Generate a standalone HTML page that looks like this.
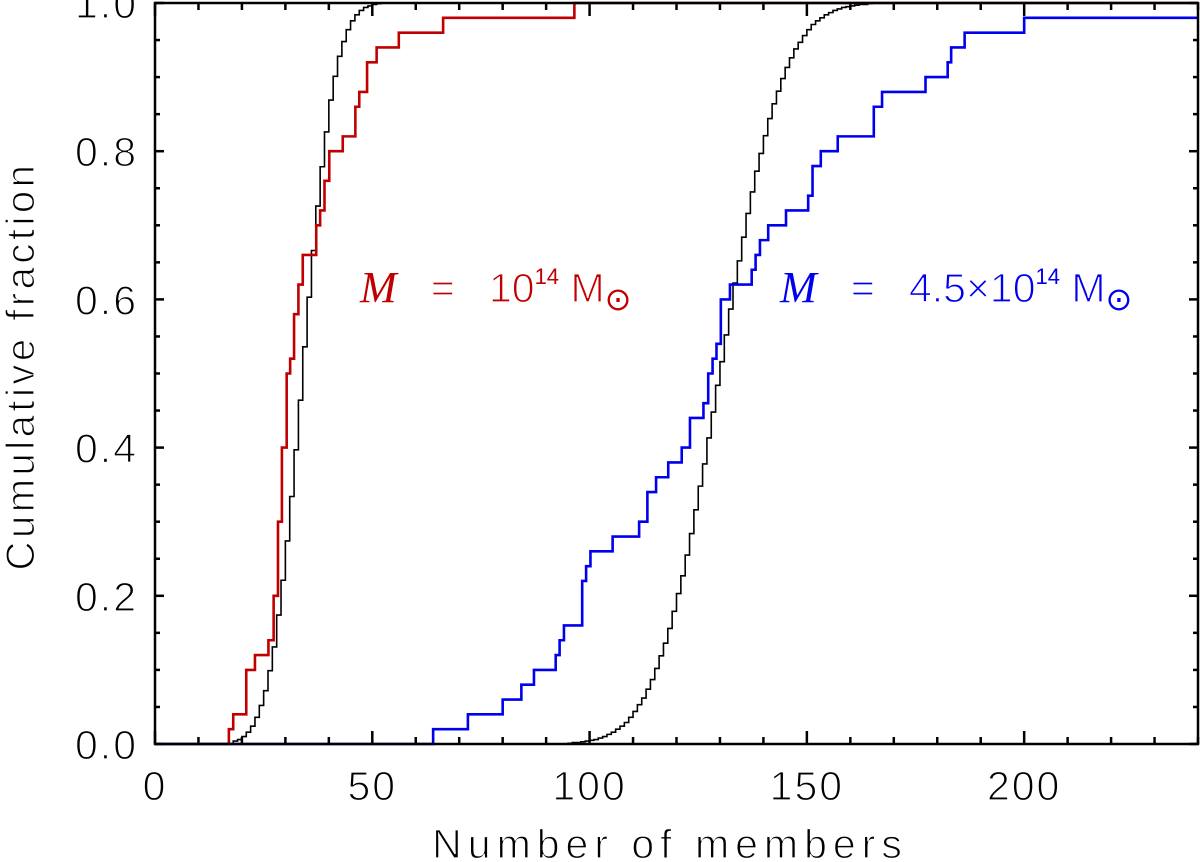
<!DOCTYPE html>
<html><head><meta charset="utf-8">
<style>
html,body{margin:0;padding:0;background:#fff;}
svg{display:block;}
text{font-family:"Liberation Sans",sans-serif;}
.thin{stroke:#fff;stroke-width:1.2;paint-order:normal;}
</style></head>
<body>
<svg id="chart" width="1200" height="862" viewBox="0 0 1200 862" xmlns="http://www.w3.org/2000/svg">
<g id="ticks"></g>
<g id="series"></g>
<rect x="155" y="3" width="1043" height="741" fill="none" stroke="#000" stroke-width="2.5"/>
<g id="labels" font-size="41" fill="#000" class="thin"></g>
<text class="thin" x="670" y="858" font-size="41" text-anchor="middle" letter-spacing="6">Number of members</text>
<text class="thin" transform="translate(34,366) rotate(-90)" font-size="40" text-anchor="middle" letter-spacing="3.5">Cumulative fraction</text>
<text class="thin" x="360" y="302" font-size="41" fill="#c00000" xml:space="preserve"><tspan font-family="Liberation Serif,serif" font-style="italic" font-size="44" stroke="none">M</tspan>   =   10<tspan font-size="22" dy="-18" stroke="none">14</tspan><tspan dy="18"> M</tspan><tspan font-size="32" dy="8" stroke="none">⊙</tspan></text>
<text class="thin" x="780" y="302" font-size="41" fill="#0000ee" xml:space="preserve"><tspan font-family="Liberation Serif,serif" font-style="italic" font-size="44" stroke="none">M</tspan>   =   4.5×10<tspan font-size="22" dy="-18" stroke="none">14</tspan><tspan dy="18"> M</tspan><tspan font-size="32" dy="8" stroke="none">⊙</tspan></text>
</svg>
<script>
// Red sample: step x positions and cumulative levels
const redX = [17.0,18.0,21.0,23.0,26.1,27.3,28.3,29.2,30.3,31.1,32.0,33.0,34.0,37.1,38.0,39.0,40.1,43.2,46.1,47.0,48.8,51.0,56.1,66.3,96.5];
const redY = [0.02,0.04,0.10,0.12,0.14,0.20,0.30,0.40,0.50,0.52,0.58,0.62,0.66,0.70,0.72,0.76,0.80,0.82,0.86,0.88,0.92,0.94,0.96,0.98,1.00];
// Blue sample
const blueX = [64.0,72.0,80.0,84.3,87.2,92.2,93.1,94.1,98.3,99.2,100.2,105.3,111.4,113.3,115.3,118.1,121.2,123.1,126.2,127.3,128.3,129.2,130.2,132.3,137.3,138.2,139.2,141.1,145.2,150.3,151.3,153.2,157.1,165.4,167.3,177.3,182.4,183.2,186.3,200.0];
const blueY = [0.02,0.04,0.06,0.08,0.10,0.12,0.14,0.16,0.22,0.24,0.26,0.28,0.30,0.34,0.36,0.38,0.40,0.44,0.46,0.50,0.52,0.54,0.60,0.62,0.64,0.66,0.68,0.70,0.72,0.74,0.78,0.80,0.82,0.86,0.88,0.90,0.92,0.94,0.96,0.98];
// Model curve 1 (black), starting at integer 18
const model1Start = 18;
const model1Y = [0.004,0.006,0.010,0.016,0.024,0.036,0.052,0.072,0.099,0.131,0.174,0.221,0.274,0.334,0.397,0.464,0.536,0.603,0.666,0.726,0.779,0.826,0.869,0.901,0.928,0.948,0.964,0.976,0.984,0.990,0.994,0.996,0.998,0.999,1.0];
// Model curve 2 (black), starting at integer 95
const model2Start = 95;
const model2Y = [0.001,0.002,0.002,0.003,0.004,0.005,0.006,0.008,0.010,0.013,0.016,0.020,0.024,0.029,0.036,0.044,0.053,0.062,0.074,0.087,0.102,0.119,0.136,0.156,0.179,0.203,0.227,0.255,0.284,0.316,0.348,0.378,0.413,0.448,0.484,0.516,0.552,0.587,0.622,0.652,0.684,0.716,0.745,0.773,0.797,0.821,0.844,0.864,0.881,0.898,0.913,0.926,0.938,0.947,0.956,0.964,0.971,0.976,0.980,0.984,0.987,0.990,0.992,0.994,0.995,0.996,0.997,0.998,0.998,0.999,1.0];
const xTicks = [0,50,100,150,200];
const yTicks = [0.0,0.2,0.4,0.6,0.8,1.0];
const xTickLabels = ["0","50","100","150","200"];
const yTickLabels = ["0.0","0.2","0.4","0.6","0.8","1.0"];

const X0=155,X1=1198,Y0=744,Y1=3,XMAX=240;
const sx = v => X0 + v/XMAX*(X1-X0);
const sy = v => Y0 - v*(Y0-Y1);
const NS="http://www.w3.org/2000/svg";
function mk(tag, parent){const e=document.createElementNS(NS,tag);parent.appendChild(e);return e;}

function stepPath(xs, ys){
  let d=`M${sx(0)},${sy(0)} L${sx(xs[0])},${sy(0)}`;
  for(let i=0;i<xs.length;i++){
    d+=` L${sx(xs[i])},${sy(ys[i])}`;
    const nx = i+1<xs.length ? xs[i+1] : XMAX;
    d+=` L${sx(nx)},${sy(ys[i])}`;
  }
  return d;
}
function modelPath(start, ys){
  const xs=ys.map((_,i)=>start+i);
  return stepPath(xs, ys);
}
const series=document.getElementById('series');
let p;
p=mk('path',series);p.setAttribute('d',modelPath(model1Start,model1Y));p.setAttribute('fill','none');p.setAttribute('stroke','#000');p.setAttribute('stroke-width','1.6');


p=mk('path',series);p.setAttribute('d',modelPath(model2Start,model2Y));p.setAttribute('fill','none');p.setAttribute('stroke','#000');p.setAttribute('stroke-width','1.6');


p=mk('path',series);p.setAttribute('d',stepPath(redX,redY));p.setAttribute('fill','none');p.setAttribute('stroke','#c00000');p.setAttribute('stroke-width','2.6');


p=mk('path',series);p.setAttribute('d',stepPath(blueX,blueY));p.setAttribute('fill','none');p.setAttribute('stroke','#0000ee');p.setAttribute('stroke-width','2.6');



const ticks=document.getElementById('ticks');
function tick(x1,y1,x2,y2){const l=mk('line',ticks);l.setAttribute('x1',x1);l.setAttribute('y1',y1);l.setAttribute('x2',x2);l.setAttribute('y2',y2);l.setAttribute('stroke','#000');l.setAttribute('stroke-width','2.5');

}
for(let v=0;v<=XMAX;v+=10){
  const len = v%50===0 ? 13 : 7;
  tick(sx(v),Y0,sx(v),Y0-len); tick(sx(v),Y1,sx(v),Y1+len);
}
for(let k=0;k<=20;k++){
  const v=k*0.05; const len = k%4===0 ? 9 : 5;
  tick(X0,sy(v),X0+len,sy(v)); tick(X1,sy(v),X1-len,sy(v));
}
const labels=document.getElementById('labels');
xTicks.forEach((v,i)=>{const t=mk('text',labels);t.setAttribute('x',sx(v));t.setAttribute('y',800);t.setAttribute('text-anchor','middle');t.setAttribute('letter-spacing','2');t.textContent=xTickLabels[i];

});
yTicks.forEach((v,i)=>{const t=mk('text',labels);t.setAttribute('x',138);t.setAttribute('y',sy(v)+15);t.setAttribute('text-anchor','end');t.setAttribute('letter-spacing','2');t.textContent=yTickLabels[i];

});
</script>
</body></html>
